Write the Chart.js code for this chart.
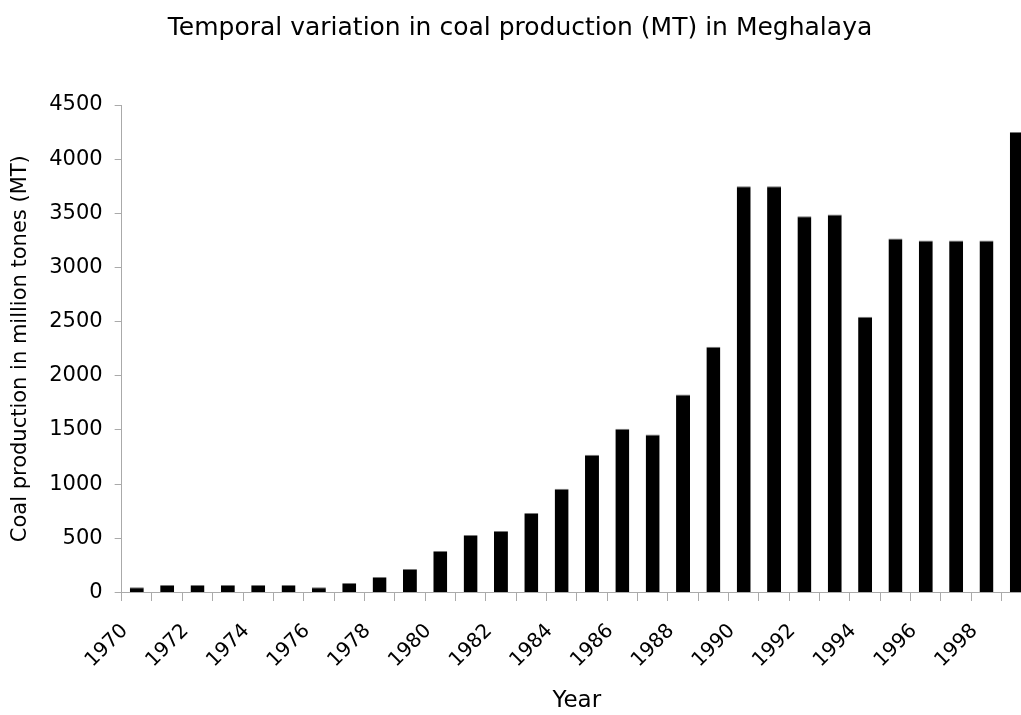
<!DOCTYPE html>
<html>
<head>
<meta charset="utf-8">
<title>Coal production in Meghalaya</title>
<script src="https://cdn.jsdelivr.net/npm/chart.js@4.4.1/dist/chart.umd.min.js"></script>
<style>
  html, body { margin: 0; padding: 0; background: #fff; overflow: hidden; }
  #wrap { width: 1021px; height: 715px; overflow: hidden; }
  canvas { display: block; }
</style>
</head>
<body>
<div id="wrap">
  <canvas id="coalChart" width="1040" height="715"></canvas>
</div>
<script>
// years on the x axis (labels shown on every other one)
const years = [
  "1970", "1971", "1972", "1973", "1974", "1975", "1976", "1977", "1978", "1979",
  "1980", "1981", "1982", "1983", "1984", "1985", "1986", "1987", "1988", "1989",
  "1990", "1991", "1992", "1993", "1994", "1995", "1996", "1997", "1998", "1999"
];

// coal production (MT)
const production = [
  49, 68, 68, 68, 68, 68, 49, 86, 142, 216,
  383, 531, 568, 734, 957, 1271, 1512, 1457, 1827, 2268,
  3750, 3750, 3472, 3490, 2546, 3268, 3250, 3250, 3250, 4250
];

const yMin = 0;
const yMax = 4500;
const yStep = 500;

const FONT = "'DejaVu Sans', 'Liberation Sans', Arial, sans-serif";
const AXIS_GREY = "#aaaaaa";

document.addEventListener("DOMContentLoaded", function () {
  const ctx = document.getElementById("coalChart").getContext("2d");

  new Chart(ctx, {
    type: "bar",
    data: {
      labels: years,
      datasets: [
        {
          label: "Coal production",
          data: production,
          backgroundColor: "#000000",
          borderColor: "#777777",
          borderWidth: { top: 1, left: 0, right: 0, bottom: 0 },
          borderSkipped: false,
          categoryPercentage: 1.0,
          barPercentage: 0.46,
        },
      ],
    },
    options: {
      responsive: false,
      animation: false,
      layout: {
        padding: { left: 8, right: 8, top: 0, bottom: 0 },
      },
      plugins: {
        legend: { display: false },
        tooltip: { enabled: false },
        title: {
          display: true,
          text: "Temporal variation in coal production (MT) in Meghalaya",
          color: "#000",
          font: { family: FONT, size: 25, weight: "normal" },
          padding: { top: 13, bottom: 62 },
        },
      },
      scales: {
        x: {
          grid: {
            drawOnChartArea: false,
            drawTicks: true,
            tickLength: 25,
            tickBorderDash: [8, 200], // only the first 8px of each tick is drawn
            color: AXIS_GREY,
          },
          border: { color: AXIS_GREY },
          ticks: {
            autoSkip: false,
            maxRotation: 45,
            minRotation: 45,
            color: "#000",
            font: { family: FONT, size: 20 },
            padding: 2,
            labelOffset: -12,
            callback: function (value, index) {
              return index % 2 === 0 ? this.getLabelForValue(value) : "";
            },
          },
          title: {
            display: true,
            text: "Year",
            color: "#000",
            font: { family: FONT, size: 23 },
            padding: { top: 13, bottom: 0 },
          },
        },
        y: {
          min: yMin,
          max: yMax,
          grid: {
            drawOnChartArea: false,
            drawTicks: true,
            tickLength: 7,
            color: AXIS_GREY,
          },
          border: { color: AXIS_GREY },
          ticks: {
            stepSize: yStep,
            color: "#000",
            font: { family: FONT, size: 21 },
            padding: 12,
            callback: function (value) {
              return String(value);
            },
          },
          title: {
            display: true,
            text: "Coal production in million tones (MT)",
            color: "#000",
            font: { family: FONT, size: 21 },
            padding: { top: 0, bottom: 4 },
          },
        },
      },
    },
  });
});
</script>
</body>
</html>
